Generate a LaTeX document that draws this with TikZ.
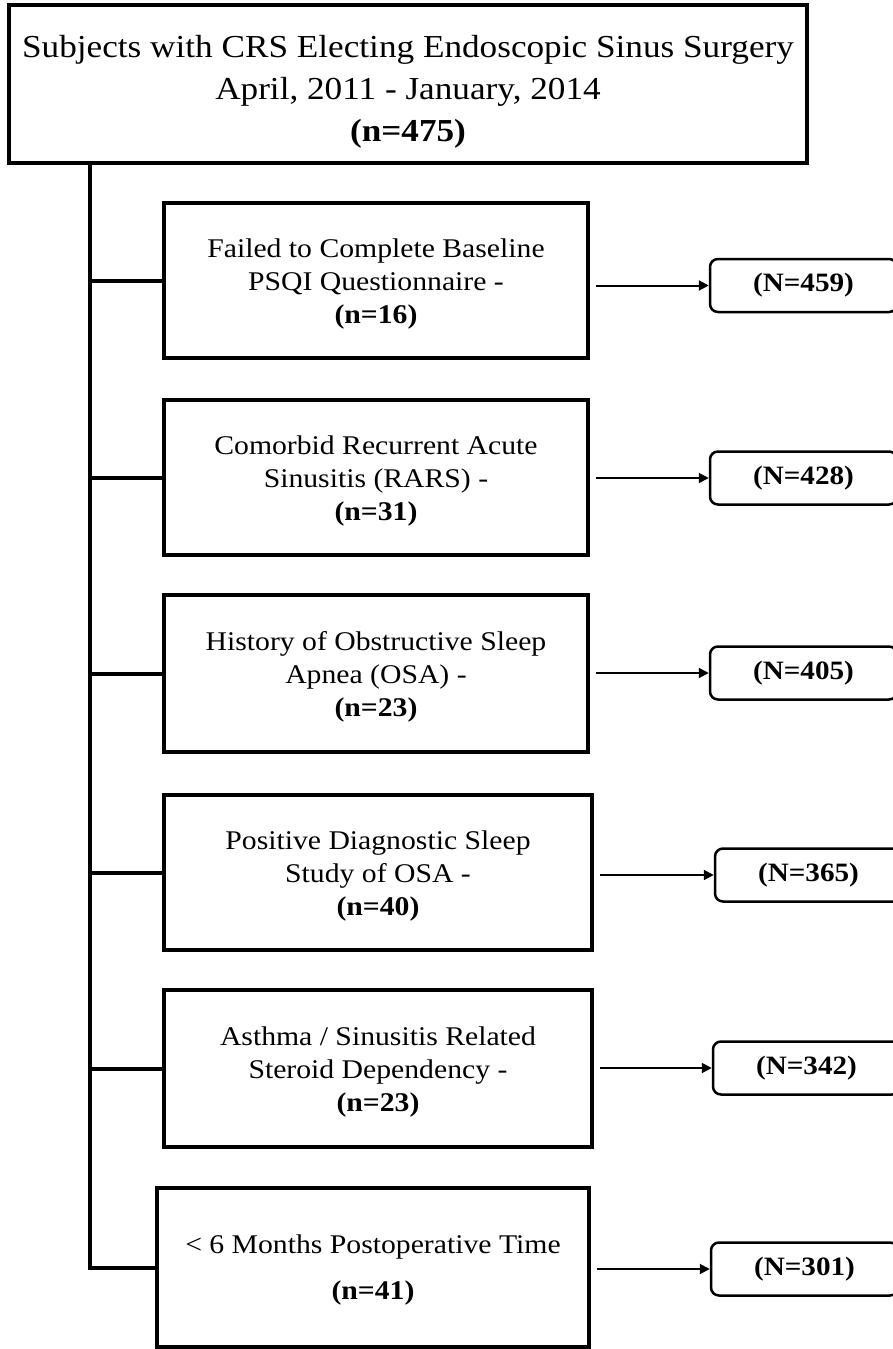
\documentclass[tikz,border=0pt]{standalone}
\usepackage{fontspec}
\setmainfont{Liberation Serif}
\newfontfamily\widefont[FakeStretch=1.1]{Liberation Serif}
\usetikzlibrary{arrows.meta}
\begin{document}
\begin{tikzpicture}[x=1pt,y=-1pt,
  box/.style={draw, line width=4pt, rectangle, align=center, inner sep=0pt,
    font=\widefont\fontsize{27}{33}\selectfont},
  nbox/.style={draw, line width=2.5pt, rounded corners=8pt,
    font=\widefont\bfseries\fontsize{26.5}{30}\selectfont,
    minimum height=53pt, minimum width=187pt, inner sep=0pt},
  link/.style={line width=4pt},
  arr/.style={line width=2pt, -{Triangle[length=10pt,width=10pt]}, shorten <=6pt}]
\useasboundingbox (0,0) rectangle (893,1349);
\clip (0,0) rectangle (893,1349);

\node[box, minimum width=798pt, minimum height=158pt,
  font=\widefont\fontsize{32}{42}\selectfont] (top) at (408,84)
  {\rule{0pt}{38pt}Subjects with CRS Electing Endoscopic Sinus Surgery\\April, 2011 - January, 2014\\\textbf{(n=475)}};

\node[box, minimum width=424pt, minimum height=155pt] (b1) at (376,280.5)
  {\rule{0pt}{26pt}Failed to Complete Baseline\\PSQI Questionnaire -\\\textbf{(n=16)}};
\node[box, minimum width=424pt, minimum height=155pt] (b2) at (376,477.5)
  {\rule{0pt}{26pt}Comorbid Recurrent Acute\\Sinusitis (RARS) -\\\textbf{(n=31)}};
\node[box, minimum width=424pt, minimum height=157pt] (b3) at (376,673.5)
  {\rule{0pt}{26pt}History of Obstructive Sleep\\Apnea (OSA) -\\\textbf{(n=23)}};
\node[box, minimum width=428pt, minimum height=155pt] (b4) at (378,872.5)
  {\rule{0pt}{26pt}Positive Diagnostic Sleep\\Study of OSA -\\\textbf{(n=40)}};
\node[box, minimum width=428pt, minimum height=157pt] (b5) at (378,1068.5)
  {\rule{0pt}{26pt}Asthma / Sinusitis Related\\Steroid Dependency -\\\textbf{(n=23)}};
\node[box, minimum width=432pt, minimum height=159pt] (b6) at (373,1267.5)
  {\rule{0pt}{24pt}< 6 Months Postoperative Time\\[13pt]\textbf{(n=41)}};

\node[nbox] (n1) at (803.5,285.5) {(N=459)};
\node[nbox] (n2) at (803.5,478) {(N=428)};
\node[nbox] (n3) at (803.5,673) {(N=405)};
\node[nbox] (n4) at (808.5,875) {(N=365)};
\node[nbox] (n5) at (806.5,1068) {(N=342)};
\node[nbox] (n6) at (804.5,1269) {(N=301)};

\coordinate (s) at (90,163);
\draw[link] (s) |- (b6.west);
\foreach \b in {b1,b2,b3,b4,b5}
  \draw[link] (\b.west -| s) -- (\b.west);

\foreach \b/\n in {b1/n1,b2/n2,b3/n3,b4/n4,b5/n5,b6/n6}
  \draw[arr] (\b.east |- \n.west) -- (\n.west);
\end{tikzpicture}
\end{document}
